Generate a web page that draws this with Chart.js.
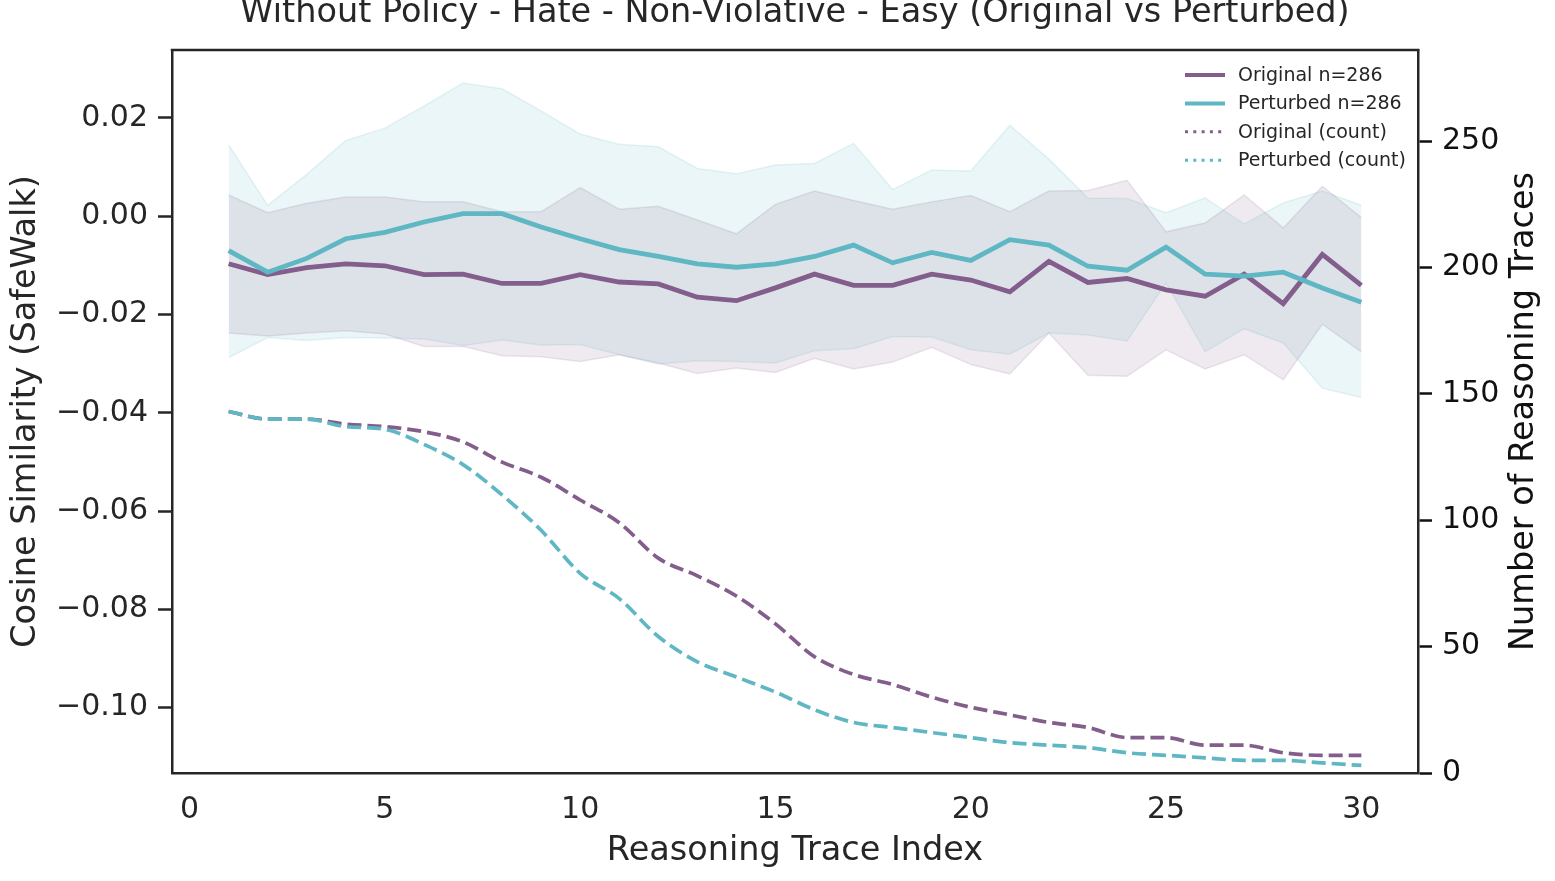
<!DOCTYPE html>
<html>
<head>
<meta charset="utf-8">
<script src="https://cdn.jsdelivr.net/npm/chart.js@4.4.1/dist/chart.umd.min.js"></script>
<style>
  html, body { margin: 0; padding: 0; background: #fff; overflow: hidden; }
  canvas { display: block; }
</style>
</head>
<body>
<canvas id="traceChart" width="1555" height="881"></canvas>
<script>
// values
const traceIndex = [1, 2, 3, 4, 5, 6, 7, 8, 9, 10, 11, 12, 13, 14, 15, 16, 17, 18, 19, 20, 21, 22, 23, 24, 25, 26, 27, 28, 29, 30];

const origMean = [-0.0097, -0.0119, -0.0105, -0.0097, -0.0101, -0.0119, -0.0118, -0.0137, -0.0137, -0.0119,
  -0.0134, -0.0138, -0.0165, -0.0172, -0.0146, -0.0118, -0.0141, -0.0141, -0.0118, -0.0130,
  -0.0154, -0.0092, -0.0135, -0.0127, -0.0150, -0.0163, -0.0118, -0.0178, -0.0078, -0.0141];
const origHigh = [0.0043, 0.0007, 0.0026, 0.0039, 0.0039, 0.0029, 0.0029, 0.0009, 0.0009, 0.0058,
  0.0014, 0.0020, -0.0008, -0.0036, 0.0024, 0.0051, 0.0032, 0.0014, 0.0029, 0.0042,
  0.0009, 0.0051, 0.0052, 0.0073, -0.0032, -0.0014, 0.0043, -0.0024, 0.0061, -0.0003];
const origLow = [-0.0238, -0.0244, -0.0238, -0.0233, -0.0240, -0.0265, -0.0265, -0.0284, -0.0286, -0.0296,
  -0.0282, -0.0299, -0.0320, -0.0309, -0.0318, -0.0289, -0.0311, -0.0297, -0.0267, -0.0302,
  -0.0321, -0.0238, -0.0324, -0.0326, -0.0272, -0.0311, -0.0282, -0.0333, -0.0220, -0.0276];

const pertMean = [-0.0070, -0.0114, -0.0086, -0.0046, -0.0033, -0.0012, 0.0005, 0.0005, -0.0022, -0.0046,
  -0.0068, -0.0082, -0.0097, -0.0104, -0.0097, -0.0082, -0.0059, -0.0095, -0.0074, -0.0090,
  -0.0048, -0.0059, -0.0102, -0.0110, -0.0063, -0.0118, -0.0122, -0.0114, -0.0146, -0.0175];
const pertHigh = [0.0145, 0.0022, 0.0085, 0.0154, 0.0179, 0.0224, 0.0271, 0.0259, 0.0214, 0.0167,
  0.0146, 0.0141, 0.0097, 0.0086, 0.0104, 0.0107, 0.0148, 0.0054, 0.0094, 0.0092,
  0.0185, 0.0116, 0.0037, 0.0036, 0.0007, 0.0037, -0.0016, 0.0027, 0.0051, 0.0022];
const pertLow = [-0.0288, -0.0247, -0.0253, -0.0247, -0.0248, -0.0250, -0.0263, -0.0252, -0.0262, -0.0261,
  -0.0282, -0.0301, -0.0294, -0.0296, -0.0299, -0.0274, -0.0270, -0.0245, -0.0246, -0.0272,
  -0.0281, -0.0238, -0.0242, -0.0254, -0.0136, -0.0276, -0.0229, -0.0258, -0.0350, -0.0369];

const origCount = [143, 140, 140, 138, 137, 135, 131, 123, 117, 108, 99, 85, 78, 70, 59,
  46, 39, 35, 30, 26, 23, 20, 18, 14, 14, 11, 11, 8, 7, 7];
const pertCount = [143, 140, 140, 137, 136, 130, 122, 110, 96, 79, 69, 54, 44, 38, 32,
  25, 20, 18, 16, 14, 12, 11, 10, 8, 7, 6, 5, 5, 4, 3];

const xTicks = [0, 5, 10, 15, 20, 25, 30];
const simTicks = [-0.10, -0.08, -0.06, -0.04, -0.02, 0.00, 0.02];
const countTicks = [0, 50, 100, 150, 200, 250];

const PURPLE = "#835d8b";
const TEAL = "#5fb7c4";
const INK = "#262626";

function pts(values) {
  return traceIndex.map((x, i) => ({ x: x, y: values[i] }));
}

function rgba(hex, a) {
  const n = parseInt(hex.slice(1), 16);
  return `rgba(${n >> 16}, ${(n >> 8) & 255}, ${n & 255}, ${a})`;
}

function bandPair(high, low, color) {
  return [
    { data: pts(high), borderColor: rgba(color, 0.15), borderWidth: 1.5, backgroundColor: rgba(color, 0.13),
      fill: "+1", pointRadius: 0, order: 3, yAxisID: "y" },
    { data: pts(low), borderColor: rgba(color, 0.15), borderWidth: 1.5, fill: false,
      pointRadius: 0, order: 3, yAxisID: "y" }
  ];
}

const datasets = [
  ...bandPair(origHigh, origLow, PURPLE),
  ...bandPair(pertHigh, pertLow, TEAL),
  { label: "Original n=286", data: pts(origMean), borderColor: PURPLE, borderWidth: 4.8,
    pointRadius: 0, order: 2, yAxisID: "y", legendDash: [] },
  { label: "Perturbed n=286", data: pts(pertMean), borderColor: TEAL, borderWidth: 4.8,
    pointRadius: 0, order: 1.5, yAxisID: "y", legendDash: [] },
  { label: "Original (count)", data: pts(origCount), borderColor: PURPLE, borderWidth: 3.7,
    borderDash: [14, 6], cubicInterpolationMode: "monotone", pointRadius: 0, order: 1, yAxisID: "y1",
    legendDash: [3, 5.3] },
  { label: "Perturbed (count)", data: pts(pertCount), borderColor: TEAL, borderWidth: 3.7,
    borderDash: [14, 6], cubicInterpolationMode: "monotone", pointRadius: 0, order: 0.5, yAxisID: "y1",
    legendDash: [3, 5.3] }
];

// title, top spine, right axis label and the little legend
const decorations = {
  id: "decorations",
  afterDraw(chart) {
    const ctx = chart.ctx;
    const area = chart.chartArea;
    ctx.save();

    ctx.strokeStyle = INK;
    ctx.lineWidth = 2.5;
    ctx.beginPath();
    ctx.moveTo(area.left - 1.25, area.top);
    ctx.lineTo(area.right + 1.25, area.top);
    ctx.stroke();

    ctx.fillStyle = INK;
    ctx.font = "33.5px 'DejaVu Sans'";
    ctx.textAlign = "center";
    ctx.textBaseline = "alphabetic";
    ctx.fillText("Without Policy - Hate - Non-Violative - Easy (Original vs Perturbed)", (area.left + area.right) / 2, 22);

    ctx.save();
    ctx.translate(1524, (area.top + area.bottom) / 2);
    ctx.rotate(-Math.PI / 2);
    ctx.fillStyle = "#111";
    ctx.font = "33.5px 'DejaVu Sans'";
    ctx.textBaseline = "middle";
    ctx.fillText("Number of Reasoning Traces", 0, 0);
    ctx.restore();

    const items = chart.data.datasets.filter(d => d.label);
    ctx.font = "19px 'DejaVu Sans'";
    ctx.textAlign = "left";
    ctx.textBaseline = "middle";
    items.forEach((d, i) => {
      const y = 75 + i * 28.4;
      ctx.strokeStyle = d.borderColor;
      ctx.lineWidth = d.legendDash.length ? 3 : 4;
      ctx.setLineDash(d.legendDash);
      ctx.beginPath();
      ctx.moveTo(1185, y);
      ctx.lineTo(1225, y);
      ctx.stroke();
      ctx.setLineDash([]);
      ctx.fillStyle = INK;
      ctx.fillText(d.label, 1238, y + 1);
    });
    ctx.restore();
  }
};

Chart.defaults.font.family = "'DejaVu Sans'";

new Chart(document.getElementById("traceChart").getContext("2d"), {
  type: "line",
  data: { datasets: datasets },
  plugins: [decorations],
  options: {
    responsive: false,
    animation: false,
    devicePixelRatio: 1,
    layout: { padding: { top: 50, left: 0, right: 0, bottom: 0 } },
    plugins: { legend: { display: false }, tooltip: { enabled: false }, title: { display: false } },
    scales: {
      x: {
        type: "linear",
        min: -0.45,
        max: 31.45,
        afterBuildTicks: s => { s.ticks = xTicks.map(v => ({ value: v })); },
        afterFit: s => { s.height = 108; },
        grid: { drawOnChartArea: false, drawTicks: false },
        border: { color: INK, width: 2.5 },
        ticks: { color: INK, font: { size: 30 }, padding: 19, callback: v => String(v) },
        title: { display: true, text: "Reasoning Trace Index", color: INK, font: { size: 33.5 }, padding: { top: 2, bottom: 10 } }
      },
      y: {
        position: "left",
        min: -0.1133,
        max: 0.0338,
        afterBuildTicks: s => { s.ticks = simTicks.map(v => ({ value: v })); },
        afterFit: s => { s.width = 172; },
        grid: { drawOnChartArea: false, drawTicks: true, tickLength: 14, tickWidth: 2.5, tickColor: INK },
        border: { color: INK, width: 2.5 },
        ticks: { color: INK, font: { size: 30 }, padding: 10, callback: v => v.toFixed(2).replace("-", "\u2212") },
        title: { display: true, text: "Cosine Similarity (SafeWalk)", color: INK, font: { size: 33.5 }, padding: { top: 6, bottom: 0 } }
      },
      y1: {
        position: "right",
        min: 0,
        max: 286,
        afterBuildTicks: s => { s.ticks = countTicks.map(v => ({ value: v })); },
        afterFit: s => { s.width = 137; },
        grid: { drawOnChartArea: false, drawTicks: true, tickLength: 14, tickWidth: 2.5, tickColor: "#111" },
        border: { color: INK, width: 2.5 },
        ticks: { color: "#111", font: { size: 30 }, padding: 10, callback: v => String(v) }
      }
    }
  }
});
</script>
</body>
</html>
